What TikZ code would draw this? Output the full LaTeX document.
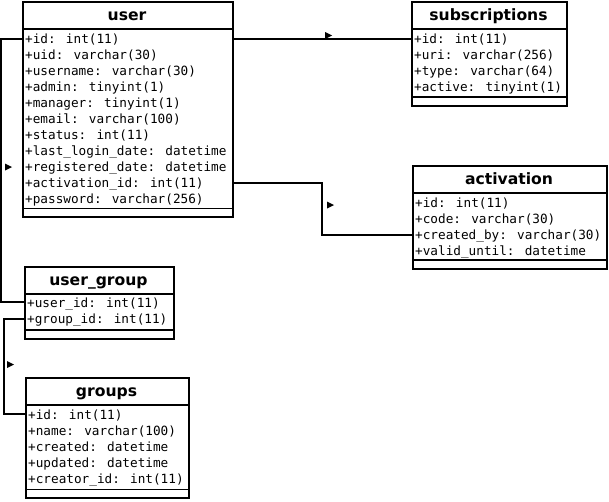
\documentclass[tikz,border=0pt]{standalone}
\usepackage{fontspec}
\newfontfamily\monof{DejaVu Sans Mono}
\newfontfamily\boldf{DejaVu Sans}[BoldFont={* Bold}]
\newcommand\usc{\char95\relax}
\begin{document}
\begin{tikzpicture}[x=1pt,y=-1pt,
  tbox/.style={draw, line width=1.6pt, inner sep=0pt, anchor=north west, rectangle},
  ttl/.style={font=\boldf\bfseries\fontsize{15.6}{16}\selectfont, anchor=base, inner sep=0pt},
  fld/.style={font=\monof\fontsize{12.7}{14}\selectfont, anchor=base west, inner sep=0pt},
  sep/.style={line width=1.6pt},
  conn/.style={line width=1.6pt},
  tri/.style={fill=black}]
\useasboundingbox (0,0) rectangle (609,501);

% user
\node[tbox, minimum width=210pt, minimum height=215pt] (user) at (22,1) {};
\node[ttl] (userT) at (127,20.5) {user};
\draw[sep] (user.west |- 0,29) -- (user.east |- 0,29);
\draw[sep] (user.west |- 0,208.5) -- (user.east |- 0,208.5);
\node[fld] (u1) at (25,43.5) {+id: int(11)};
\node[fld] (u2) at (25,59.5) {+uid: varchar(30)};
\node[fld] (u3) at (25,75.5) {+username: varchar(30)};
\node[fld] (u4) at (25,91.5) {+admin: tinyint(1)};
\node[fld] (u5) at (25,107.5) {+manager: tinyint(1)};
\node[fld] (u6) at (25,123.5) {+email: varchar(100)};
\node[fld] (u7) at (25,139.5) {+status: int(11)};
\node[fld] (u8) at (25,155.5) {+last\usc login\usc date: datetime};
\node[fld] (u9) at (25,171.5) {+registered\usc date: datetime};
\node[fld] (u10) at (25,187.5) {+activation\usc id: int(11)};
\node[fld] (u11) at (25,203.5) {+password: varchar(256)};

% subscriptions
\node[tbox, minimum width=155pt, minimum height=104pt] (subs) at (411,1) {};
\node[ttl] (subsT) at (488.5,20.5) {subscriptions};
\draw[sep] (subs.west |- 0,29) -- (subs.east |- 0,29);
\draw[sep] (subs.west |- 0,97) -- (subs.east |- 0,97);
\node[fld] (s1) at (414,43.5) {+id: int(11)};
\node[fld] (s2) at (414,59.5) {+uri: varchar(256)};
\node[fld] (s3) at (414,75.5) {+type: varchar(64)};
\node[fld] (s4) at (414,91.5) {+active: tinyint(1)};

% activation
\node[tbox, minimum width=194pt, minimum height=103pt] (act) at (412,165) {};
\node[ttl] (actT) at (509,184.5) {activation};
\draw[sep] (act.west |- 0,193) -- (act.east |- 0,193);
\draw[sep] (act.west |- 0,260) -- (act.east |- 0,260);
\node[fld] (a1) at (415,207) {+id: int(11)};
\node[fld] (a2) at (415,223) {+code: varchar(30)};
\node[fld] (a3) at (415,239) {+created\usc by: varchar(30)};
\node[fld] (a4) at (415,255) {+valid\usc until: datetime};

% user_group
\node[tbox, minimum width=149pt, minimum height=72pt] (ug) at (24,266) {};
\node[ttl] (ugT) at (98.5,285.5) {user\usc group};
\draw[sep] (ug.west |- 0,294) -- (ug.east |- 0,294);
\draw[sep] (ug.west |- 0,330) -- (ug.east |- 0,330);
\node[fld] (g1) at (27,307) {+user\usc id: int(11)};
\node[fld] (g2) at (27,323) {+group\usc id: int(11)};

% groups
\node[tbox, minimum width=163pt, minimum height=120pt] (grp) at (25,377) {};
\node[ttl] (grpT) at (106.5,396.5) {groups};
\draw[sep] (grp.west |- 0,405) -- (grp.east |- 0,405);
\draw[sep] (grp.west |- 0,489.5) -- (grp.east |- 0,489.5);
\node[fld] (p1) at (28,419) {+id: int(11)};
\node[fld] (p2) at (28,435) {+name: varchar(100)};
\node[fld] (p3) at (28,451) {+created: datetime};
\node[fld] (p4) at (28,467) {+updated: datetime};
\node[fld] (p5) at (28,483) {+creator\usc id: int(11)};

% connectors
\coordinate (c1a) at (1,39);
\coordinate (c1b) at (1,302);
\draw[conn] (user.west |- c1a) -- (c1a) -- (c1b) -- (ug.west |- c1b);
\fill[tri] (12,167) -- (5,163.5) -- (5,170.5) -- cycle;

\coordinate (c2) at (322,39);
\draw[conn] (user.east |- c2) -- (subs.west |- c2);
\fill[tri] (332,35.5) -- (325,32) -- (325,39) -- cycle;

\coordinate (c3a) at (322,183);
\coordinate (c3b) at (322,235);
\draw[conn] (user.east |- c3a) -- (c3a) -- (c3b) -- (act.west |- c3b);
\fill[tri] (334,205) -- (327,201.5) -- (327,208.5) -- cycle;

\coordinate (c4a) at (4,319);
\coordinate (c4b) at (4,414);
\draw[conn] (ug.west |- c4a) -- (c4a) -- (c4b) -- (grp.west |- c4b);
\fill[tri] (14,364.5) -- (7,361) -- (7,368) -- cycle;
\end{tikzpicture}
\end{document}
